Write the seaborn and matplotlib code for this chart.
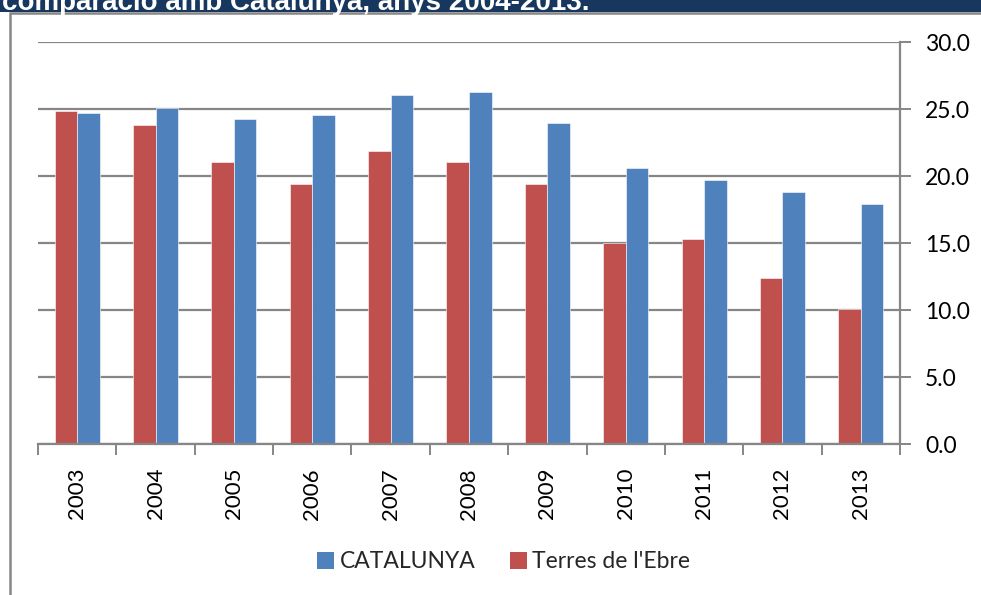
import matplotlib
matplotlib.use("Agg")
import matplotlib.pyplot as plt
from matplotlib.patches import Rectangle, Patch
import seaborn as sns
import pandas as pd

# Data
years = ["2003", "2004", "2005", "2006", "2007", "2008", "2009", "2010", "2011", "2012", "2013"]
terres_ebre = [24.9, 23.8, 21.1, 19.4, 21.9, 21.1, 19.4, 15.0, 15.3, 12.4, 10.1]
catalunya = [24.7, 25.1, 24.3, 24.6, 26.1, 26.3, 24.0, 20.6, 19.7, 18.8, 17.9]
series_names = ["Terres de l'Ebre", "CATALUNYA"]
y_ticks = [0, 5, 10, 15, 20, 25, 30]
title_text = "comparació amb Catalunya, anys 2004-2013."

RED = "#C0504D"
BLUE = "#4F81BD"
GRID = "#868686"

df = pd.DataFrame({
    "year": years * 2,
    "value": terres_ebre + catalunya,
    "series": [series_names[0]] * len(years) + [series_names[1]] * len(years),
})

sns.set_theme(style="white")
plt.rcParams["font.family"] = ["Lato", "DejaVu Sans"]

W, H = 981, 595
fig = plt.figure(figsize=(W / 100, H / 100), dpi=100)

# Header band and outer chart frame
fig.patches.append(Rectangle((0, 1 - 11.5 / H), 1, 11.5 / H, transform=fig.transFigure,
                             facecolor="#17375E", edgecolor="none", zorder=0))
fig.patches.append(Rectangle((9.5 / W, -0.1), 1.2, 1 - 13 / H + 0.1, transform=fig.transFigure,
                             facecolor="none", edgecolor=GRID, linewidth=1.8, zorder=1))
fig.text(1.5 / W, 1 - 10.5 / H, title_text, color="white", fontsize=20, fontweight="bold",
         family=["Liberation Sans", "DejaVu Sans"], va="baseline", ha="left")

ax = fig.add_axes([38 / W, 1 - 444.3 / H, (900 - 38) / W, (444.3 - 42.3) / H])
sns.barplot(data=df, x="year", y="value", hue="series", hue_order=series_names,
            palette=[RED, BLUE], width=0.575, gap=0, saturation=1, ax=ax,
            edgecolor="white", linewidth=0.4, legend=False)

ax.set_xlim(-0.5, len(years) - 0.5)
ax.set_ylim(0, 30)
ax.set_yticks(y_ticks)
ax.set_yticklabels([f"{v:.1f}" for v in y_ticks])
ax.yaxis.tick_right()
ax.set_xlabel("")
ax.set_ylabel("")

ax.grid(axis="y", color=GRID, linewidth=1.6)
ax.set_axisbelow(True)
for side in ["top", "left"]:
    ax.spines[side].set_visible(False)
for side in ["right", "bottom"]:
    ax.spines[side].set_color(GRID)
    ax.spines[side].set_linewidth(1.6)

ax.tick_params(axis="y", which="major", right=True, left=False, length=8, width=1.4,
               color=GRID, labelsize=16.5, pad=10, labelcolor="black")
ax.set_xticks(range(len(years)))
ax.set_xticklabels(years, rotation=90)
ax.set_xticks([i - 0.5 for i in range(len(years) + 1)], minor=True)
ax.tick_params(axis="x", which="major", length=0, labelsize=16, pad=17, labelcolor="black")
ax.tick_params(axis="x", which="minor", bottom=True, length=8, width=1.4, color=GRID)

handles = [Patch(facecolor=BLUE, edgecolor="none"), Patch(facecolor=RED, edgecolor="none")]
fig.legend(handles, [series_names[1], series_names[0]], loc="center",
           bbox_to_anchor=(503.5 / W, 1 - 562 / H), ncol=2, frameon=False, fontsize=16.5,
           handlelength=0.75, handleheight=0.75, handletextpad=0.25, columnspacing=1.5,
           borderpad=0, borderaxespad=0)

fig.savefig("out.png", dpi=100, facecolor="white")
